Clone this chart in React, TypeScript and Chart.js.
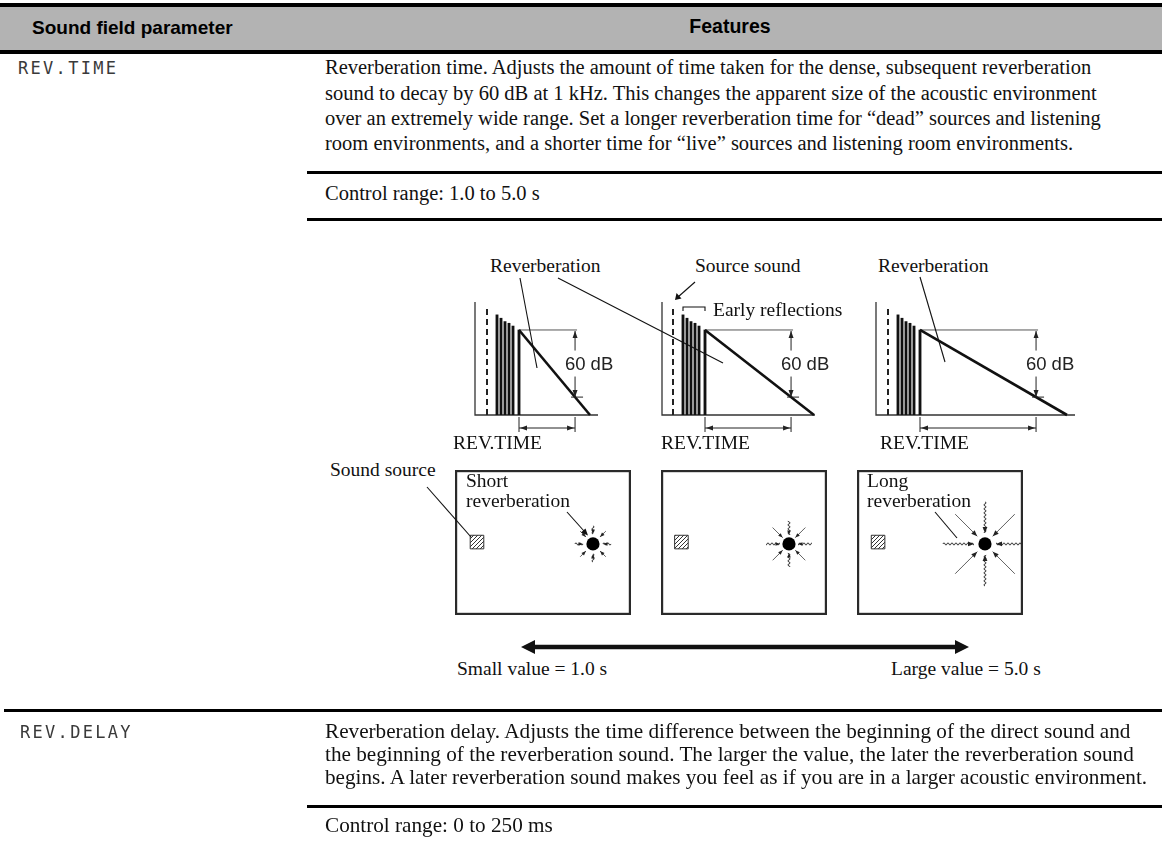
import React, { useEffect, useRef } from "react";
import { Chart, registerables } from "chart.js";

Chart.register(...registerables);

// ---------------- Data ----------------
// Early reflections: arrival time after the source sound (ms) and level (dB)
const reflectionTimes = [10, 14, 18, 22, 26, 32];
const reflectionLevels = [89.5, 86.5, 83.5, 82, 79.5, 76];
// Source (direct) sound impulse level, drawn dashed at t = 0
const sourceSoundLevel = 98;
// Decay span that defines REV.TIME (dB)
const decayRange = 60;
const decayLabel = "60 dB";
// End of the reverberation tail (ms): short, medium, long setting
const reverbEndTimes = [103, 141, 179];
// Axis extents of each decay plot
const axisTimeMin = [-12, -11, -12];
const axisTimeMax = [111, 142, 187];
const levelAxisMax = 101;

// Room sketches (room coordinates 0..100)
const roomSourceX = [12.5, 12.3, 12.7];
const roomSourceY = [50.3, 50.3, 50.3];
const roomListenerX = [78.4, 77.1, 77.1];
const roomListenerY = [49, 49, 49];
// Reverberation rays around the listener (px from centre)
const rayInner = [10, 9, 11];
const rayOuter = [18, 23, 42];

// Texts
const headerLabels = ["Sound field parameter", "Features"];
const paramNames = ["REV.TIME", "REV.DELAY"];
const revTimeText = [
  "Reverberation time. Adjusts the amount of time taken for the dense, subsequent reverberation",
  "sound to decay by 60 dB at 1 kHz. This changes the apparent size of the acoustic environment",
  "over an extremely wide range. Set a longer reverberation time for \u201cdead\u201d sources and listening",
  "room environments, and a shorter time for \u201clive\u201d sources and listening room environments.",
];
const revDelayText = [
  "Reverberation delay. Adjusts the time difference between the beginning of the direct sound and",
  "the beginning of the reverberation sound. The larger the value, the later the reverberation sound",
  "begins. A later reverberation sound makes you feel as if you are in a larger acoustic environment.",
];
const controlRanges = ["Control range: 1.0 to 5.0 s", "Control range: 0 to 250 ms"];
const decayCaption = "REV.TIME";
const topLabels = ["Reverberation", "Source sound", "Reverberation", "Early reflections"];
const roomLabels = [["Short", "reverberation"], ["Long", "reverberation"]];
const soundSourceLabel = "Sound source";
const rangeLabels = ["Small value = 1.0 s", "Large value = 5.0 s"];

// ---------------- Layout ----------------
const serif = '"Liberation Serif", "Times New Roman", serif';
const sans = '"Liberation Sans", Arial, sans-serif';
const mono = '"DejaVu Sans Mono", monospace';
const decayAxisLeft = [475, 662, 876];
const decayPlotTop = 302;
const decayPlotH = 113;
const roomLeft = [455, 661, 857];
const roomWidth = [176, 166, 166];
const roomTop = 470;
const roomH = 145;
const descSize = 20.5;
const delaySize = 21.2;
const diagSize = 19.5;

function arrowHead(ctx: CanvasRenderingContext2D, tx: number, ty: number, fx: number, fy: number, len: number, half: number) {
  const a = Math.atan2(ty - fy, tx - fx);
  const bx = tx - len * Math.cos(a);
  const by = ty - len * Math.sin(a);
  ctx.beginPath();
  ctx.moveTo(tx, ty);
  ctx.lineTo(bx + half * Math.sin(a), by - half * Math.cos(a));
  ctx.lineTo(bx - half * Math.sin(a), by + half * Math.cos(a));
  ctx.closePath();
  ctx.fill();
}

function DecayChart({ idx }: { idx: number }) {
  const ref = useRef<HTMLCanvasElement>(null);
  const padL = 15, padR = 62, padT = 12, padB = 40;
  const plotW = axisTimeMax[idx] - axisTimeMin[idx];
  const W = padL + plotW + padR;
  const H = padT + decayPlotH + padB;
  useEffect(() => {
    const lastT = reflectionTimes[reflectionTimes.length - 1];
    const lastL = reflectionLevels[reflectionLevels.length - 1];
    const endT = reverbEndTimes[idx];
    const rtT = lastT + ((endT - lastT) * decayRange) / lastL;
    const deco = {
      id: "decoDecay",
      beforeDatasetsDraw(chart: any) {
        const { ctx, chartArea: a } = chart;
        ctx.save();
        ctx.strokeStyle = "#333";
        ctx.lineWidth = 1.3;
        ctx.beginPath();
        ctx.moveTo(a.left, a.top);
        ctx.lineTo(a.left, a.bottom);
        ctx.lineTo(a.right, a.bottom);
        ctx.stroke();
        ctx.restore();
      },
      afterDatasetsDraw(chart: any) {
        const { ctx, chartArea: a, scales } = chart;
        const x = scales.x, y = scales.y;
        const xr = x.getPixelForValue(rtT);
        const xs = x.getPixelForValue(lastT);
        const yT = y.getPixelForValue(lastL);
        const yB = y.getPixelForValue(lastL - decayRange);
        ctx.save();
        ctx.strokeStyle = "#222";
        ctx.fillStyle = "#222";
        ctx.lineWidth = 1;
        ctx.beginPath();
        ctx.moveTo(xr, yT + 1);
        ctx.lineTo(xr, yB);
        ctx.moveTo(xr - 4, yB);
        ctx.lineTo(xr + 8, yB);
        ctx.stroke();
        arrowHead(ctx, xr, yT + 1, xr, yT + 10, 7, 2.5);
        arrowHead(ctx, xr, yB, xr, yB - 10, 7, 2.5);
        const cy = (yT + yB) / 2;
        ctx.font = `18.5px ${sans}`;
        const tw = ctx.measureText(decayLabel).width;
        const tx = xr + 14 - tw / 2;
        ctx.fillStyle = "#fff";
        ctx.fillRect(tx - 2, cy - 13, tw + 4, 26);
        ctx.fillStyle = "#222";
        ctx.textBaseline = "middle";
        ctx.fillText(decayLabel, tx, cy + 1);
        const ya = a.bottom + 13;
        ctx.beginPath();
        ctx.moveTo(xs, a.bottom + 2);
        ctx.lineTo(xs, a.bottom + 17);
        ctx.moveTo(xr, a.bottom + 2);
        ctx.lineTo(xr, a.bottom + 17);
        ctx.moveTo(xs, ya);
        ctx.lineTo(xr, ya);
        ctx.stroke();
        ctx.fillStyle = "#222";
        arrowHead(ctx, xs + 1, ya, xs + 10, ya, 7, 2.5);
        arrowHead(ctx, xr - 1, ya, xr - 10, ya, 7, 2.5);
        ctx.restore();
      },
    };
    const chart = new Chart(ref.current as HTMLCanvasElement, {
      type: "scatter",
      data: {
        datasets: [
          {
            type: "bar",
            data: reflectionTimes.map((t, i) => ({ x: t, y: reflectionLevels[i] })),
            backgroundColor: "#111",
            borderWidth: 0,
            barThickness: 2.2,
          } as any,
          {
            type: "line",
            data: [{ x: 0, y: 0 }, { x: 0, y: sourceSoundLevel }],
            borderColor: "#222",
            borderWidth: 2,
            borderDash: [6, 4],
            pointRadius: 0,
            clip: false,
          } as any,
          {
            type: "line",
            data: [{ x: lastT, y: lastL }, { x: endT, y: 0 }],
            borderColor: "#111",
            borderWidth: 2.6,
            pointRadius: 0,
            clip: false,
          } as any,
          {
            type: "line",
            data: [{ x: lastT, y: lastL }, { x: rtT + 2, y: lastL }],
            borderColor: "#555",
            borderWidth: 1,
            pointRadius: 0,
            clip: false,
          } as any,
        ],
      },
      options: {
        responsive: false,
        animation: false,
        events: [],
        layout: { autoPadding: false, padding: { left: padL, right: padR, top: padT, bottom: padB } },
        plugins: { legend: { display: false }, tooltip: { enabled: false } },
        scales: {
          x: { type: "linear", min: axisTimeMin[idx], max: axisTimeMax[idx], display: false, offset: false },
          y: { type: "linear", min: 0, max: levelAxisMax, display: false },
        },
      } as any,
      plugins: [deco],
    });
    return () => chart.destroy();
  }, [idx]);
  return (
    <canvas
      ref={ref}
      width={W}
      height={H}
      style={{ position: "absolute", left: decayAxisLeft[idx] - padL, top: decayPlotTop - padT, width: W, height: H }}
    />
  );
}

function RoomChart({ idx }: { idx: number }) {
  const ref = useRef<HTMLCanvasElement>(null);
  const W = roomWidth[idx];
  const H = roomH;
  useEffect(() => {
    const canvas = ref.current as HTMLCanvasElement;
    const pc = document.createElement("canvas");
    pc.width = 4;
    pc.height = 4;
    const p = pc.getContext("2d") as CanvasRenderingContext2D;
    p.fillStyle = "#fff";
    p.fillRect(0, 0, 4, 4);
    p.strokeStyle = "#333";
    p.lineWidth = 1;
    p.beginPath();
    p.moveTo(0, 4);
    p.lineTo(4, 0);
    p.moveTo(-1, 1);
    p.lineTo(1, -1);
    p.moveTo(3, 5);
    p.lineTo(5, 3);
    p.stroke();
    const hatch = (canvas.getContext("2d") as CanvasRenderingContext2D).createPattern(pc, "repeat");
    const deco = {
      id: "decoRoom",
      beforeDatasetsDraw(chart: any) {
        const { ctx, chartArea: a, scales } = chart;
        const cx = scales.x.getPixelForValue(roomListenerX[idx]);
        const cy = scales.y.getPixelForValue(roomListenerY[idx]);
        const r0 = rayInner[idx], r1 = rayOuter[idx];
        ctx.save();
        ctx.beginPath();
        ctx.rect(a.left, a.top, a.width, a.height);
        ctx.clip();
        ctx.strokeStyle = "#222";
        ctx.fillStyle = "#222";
        ctx.lineWidth = 1;
        for (let k = 0; k < 8; k++) {
          const ang = (k * Math.PI) / 4;
          const dx = Math.cos(ang), dy = Math.sin(ang);
          const wavy = k % 2 === 0;
          const steps = Math.ceil((r1 - r0) * 2);
          ctx.beginPath();
          for (let s = 0; s <= steps; s++) {
            const d = r1 - ((r1 - r0) * s) / steps;
            const off = wavy ? 1.2 * Math.sin((d * Math.PI) / 2) : 0;
            const px = cx + dx * d - dy * off;
            const py = cy + dy * d + dx * off;
            if (s === 0) ctx.moveTo(px, py);
            else ctx.lineTo(px, py);
          }
          ctx.stroke();
          const hl = idx === 2 ? 6 : 4.5;
          arrowHead(ctx, cx + dx * r0, cy + dy * r0, cx + dx * (r0 + 6), cy + dy * (r0 + 6), hl, hl * 0.4);
        }
        ctx.restore();
      },
      afterDraw(chart: any) {
        const { ctx, chartArea: a } = chart;
        ctx.save();
        ctx.strokeStyle = "#2a2a2a";
        ctx.lineWidth = 2.2;
        ctx.strokeRect(a.left + 1.1, a.top + 1.1, a.width - 2.2, a.height - 2.2);
        ctx.restore();
      },
    };
    const chart = new Chart(canvas, {
      type: "scatter",
      data: {
        datasets: [
          {
            data: [{ x: roomSourceX[idx], y: roomSourceY[idx] }],
            pointStyle: "rect",
            pointRadius: 9.6,
            backgroundColor: hatch as any,
            borderColor: "#333",
            borderWidth: 1,
          },
          {
            data: [{ x: roomListenerX[idx], y: roomListenerY[idx] }],
            pointStyle: "circle",
            pointRadius: 6.6,
            backgroundColor: "#000",
            borderWidth: 0,
          },
        ],
      },
      options: {
        responsive: false,
        animation: false,
        events: [],
        layout: { autoPadding: false, padding: 0 },
        plugins: { legend: { display: false }, tooltip: { enabled: false } },
        scales: {
          x: { type: "linear", min: 0, max: 100, display: false },
          y: { type: "linear", min: 0, max: 100, display: false },
        },
      } as any,
      plugins: [deco],
    });
    return () => chart.destroy();
  }, [idx]);
  return (
    <canvas
      ref={ref}
      width={W}
      height={H}
      style={{ position: "absolute", left: roomLeft[idx], top: roomTop, width: W, height: H }}
    />
  );
}

function Txt(props: {
  x: number;
  cy: number;
  size: number;
  family: string;
  weight?: number | string;
  center?: boolean;
  k?: number;
  color?: string;
  ls?: number;
  children: React.ReactNode;
}) {
  const k = props.k ?? 0.55;
  return (
    <div
      style={{
        position: "absolute",
        left: props.x,
        top: props.cy - props.size * k,
        fontSize: props.size,
        lineHeight: `${props.size}px`,
        fontFamily: props.family,
        fontWeight: props.weight ?? "normal",
        whiteSpace: "nowrap",
        color: props.color ?? "#111",
        letterSpacing: props.ls ?? 0,
        transform: props.center ? "translateX(-50%)" : undefined,
      }}
    >
      {props.children}
    </div>
  );
}

function Rule({ x, y, h, w }: { x: number; y: number; h: number; w?: number }) {
  return <div style={{ position: "absolute", left: x, top: y, width: w ?? 1162 - x, height: h, background: "#000" }} />;
}

export default function App() {
  return (
    <div
      style={{
        position: "absolute",
        left: 0,
        top: 0,
        width: 1162,
        height: 851,
        background: "#fff",
        overflow: "hidden",
      }}
    >
      {/* header */}
      <Rule x={0} y={3} h={4} />
      <div style={{ position: "absolute", left: 0, top: 7, width: 1162, height: 43, background: "#b3b3b3" }} />
      <Rule x={0} y={50} h={3.5} />
      <Txt x={32} cy={27} size={19} family={sans} weight="bold" k={0.5} color="#000">
        {headerLabels[0]}
      </Txt>
      <Txt x={730} cy={27} size={19.5} family={sans} weight="bold" k={0.5} center color="#000">
        {headerLabels[1]}
      </Txt>

      {/* REV.TIME */}
      <Txt x={18} cy={68.5} size={17} family={mono} k={0.48} color="#3a3a3a" ls={2.3}>
        {paramNames[0]}
      </Txt>
      {revTimeText.map((l, i) => (
        <Txt key={i} x={325} cy={68.5 + i * 25.3} size={descSize} family={serif}>
          {l}
        </Txt>
      ))}
      <Rule x={307} y={170.5} h={3} />
      <Txt x={325} cy={194} size={descSize} family={serif}>
        {controlRanges[0]}
      </Txt>
      <Rule x={307} y={217.5} h={3} />

      {/* diagram */}
      {[0, 1, 2].map((i) => (
        <DecayChart key={"d" + i} idx={i} />
      ))}
      {[0, 1, 2].map((i) => (
        <RoomChart key={"r" + i} idx={i} />
      ))}
      <Txt x={490} cy={267} size={diagSize} family={serif}>{topLabels[0]}</Txt>
      <Txt x={695} cy={267} size={diagSize} family={serif}>{topLabels[1]}</Txt>
      <Txt x={878} cy={267} size={diagSize} family={serif}>{topLabels[2]}</Txt>
      <Txt x={713} cy={311} size={diagSize} family={serif}>{topLabels[3]}</Txt>
      <Txt x={453} cy={444} size={diagSize} family={serif}>{decayCaption}</Txt>
      <Txt x={661} cy={444} size={diagSize} family={serif}>{decayCaption}</Txt>
      <Txt x={880} cy={444} size={diagSize} family={serif}>{decayCaption}</Txt>
      <Txt x={330} cy={471} size={diagSize} family={serif}>{soundSourceLabel}</Txt>
      <Txt x={466} cy={482} size={diagSize} family={serif}>{roomLabels[0][0]}</Txt>
      <Txt x={466} cy={502} size={diagSize} family={serif}>{roomLabels[0][1]}</Txt>
      <Txt x={867} cy={482} size={diagSize} family={serif}>{roomLabels[1][0]}</Txt>
      <Txt x={867} cy={502} size={diagSize} family={serif}>{roomLabels[1][1]}</Txt>
      <Txt x={457} cy={670} size={diagSize} family={serif}>{rangeLabels[0]}</Txt>
      <Txt x={891} cy={670} size={diagSize} family={serif}>{rangeLabels[1]}</Txt>

      <svg
        width={1162}
        height={851}
        style={{ position: "absolute", left: 0, top: 0, pointerEvents: "none" }}
      >
        <g stroke="#111" strokeWidth={1.1} fill="none">
          <line x1={520} y1={278} x2={537} y2={368} />
          <line x1={558} y1={278} x2={723} y2={363} />
          <line x1={920} y1={277} x2={945} y2={362} />
          <line x1={695} y1={282} x2={678} y2={297} />
          <path d="M683,311 V307 H705 V311" />
          <line x1={427} y1={487} x2={471} y2={537} />
          <line x1={567} y1={512} x2={584} y2={531} />
          <line x1={935} y1={512} x2={957} y2={538} />
        </g>
        <g fill="#111">
          <polygon points="675,300 676.5,293 681.5,298.5" />
          <polygon points="588,535.5 581,532.5 585.5,528.5" />
        </g>
        <line x1={534} y1={647} x2={956} y2={647} stroke="#111" strokeWidth={4.5} />
        <polygon points="521,647 535,640 535,654" fill="#111" />
        <polygon points="969,647 955,640 955,654" fill="#111" />
      </svg>

      {/* REV.DELAY */}
      <Rule x={4} y={708.5} h={3.5} />
      <Txt x={20} cy={732} size={17} family={mono} k={0.48} color="#3a3a3a" ls={2.3}>
        {paramNames[1]}
      </Txt>
      {revDelayText.map((l, i) => (
        <Txt key={i} x={325} cy={733 + i * 22.6} size={delaySize} family={serif}>
          {l}
        </Txt>
      ))}
      <Rule x={307} y={804.5} h={3} />
      <Txt x={325} cy={827} size={delaySize} family={serif}>
        {controlRanges[1]}
      </Txt>
    </div>
  );
}
